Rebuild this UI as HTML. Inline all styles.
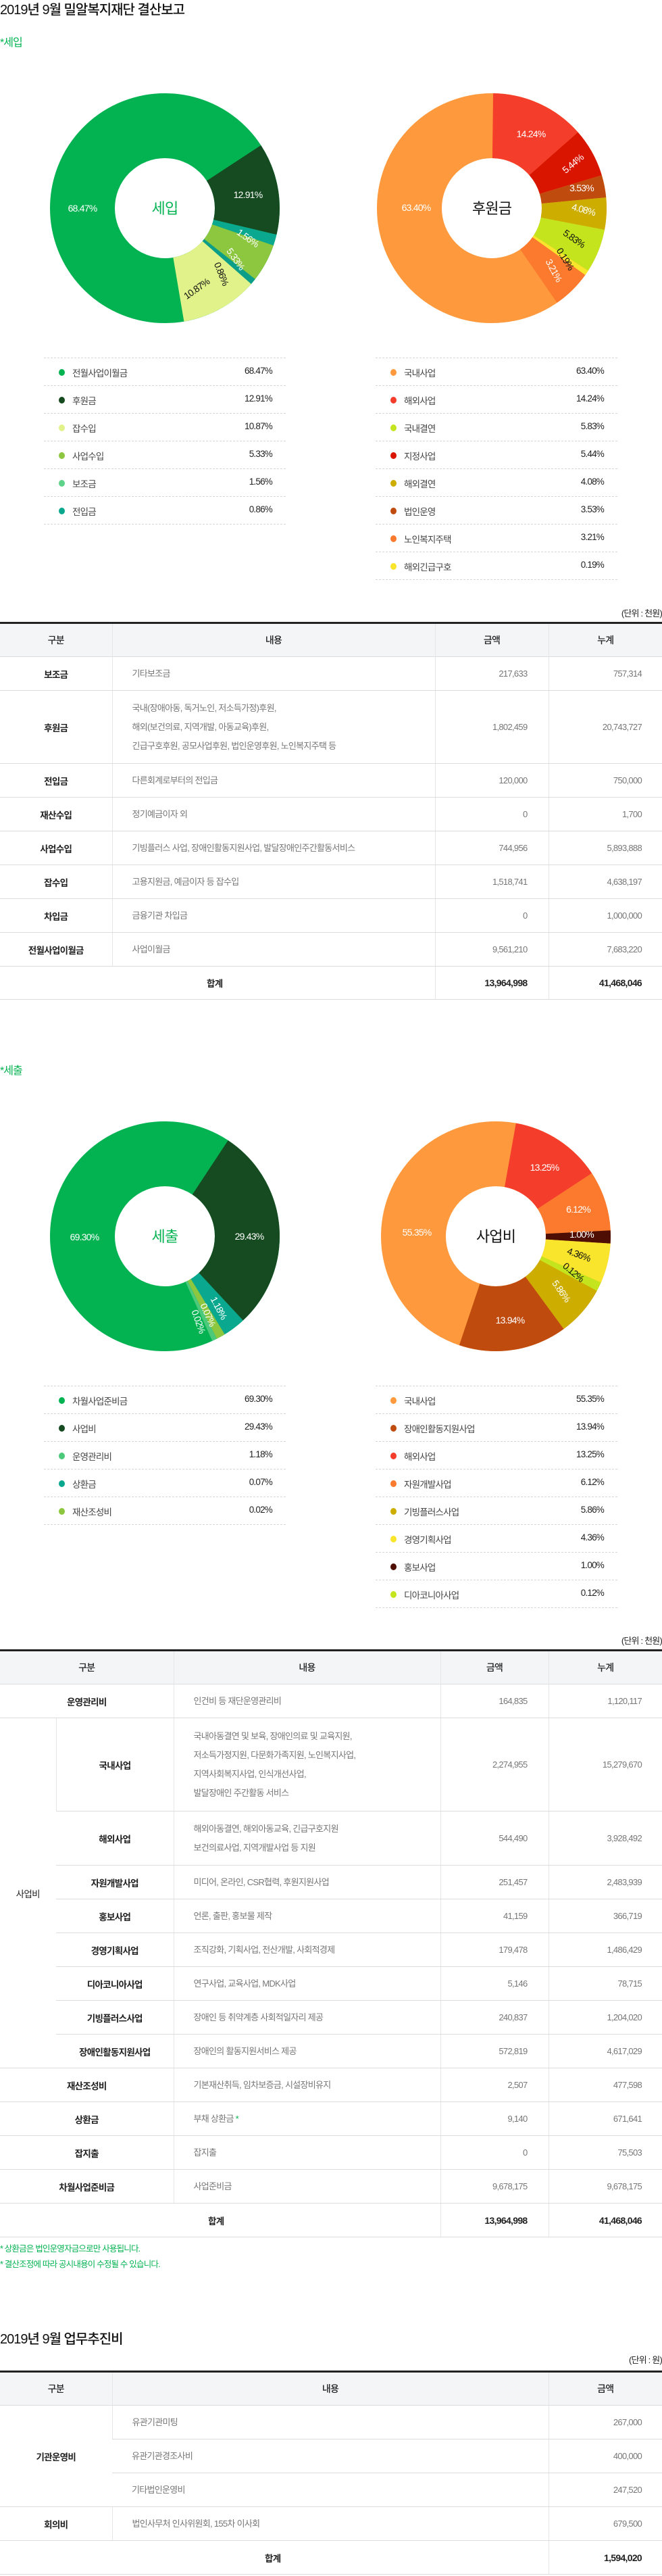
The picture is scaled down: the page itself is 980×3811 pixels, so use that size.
<!DOCTYPE html>
<html><head><meta charset="utf-8">
<style>
*{margin:0;padding:0;box-sizing:border-box}
body{width:980px;height:3811px;position:relative;background:#fff;font-family:"Liberation Sans","Noto Sans CJK KR",sans-serif;overflow:hidden}
.a{position:absolute}
.title{font-size:20px;color:#111;letter-spacing:-1px;font-weight:500}
.sec{font-size:16px;color:#03b352;letter-spacing:-1px}
.lg{position:absolute;height:41px;border-top:1px dashed #d6d6d6;font-size:13.5px;color:#444;letter-spacing:-0.8px}
.lg .d{position:absolute;left:22px;top:16px;width:9px;height:10px;border-radius:50%}
.lg .n{position:absolute;left:42px;top:11px}
.lg .p{position:absolute;right:20px;top:11px;color:#222}
.lgend{position:absolute;height:0;border-top:1px dashed #d6d6d6}
.unit{font-size:13px;color:#222;right:0;letter-spacing:-0.8px}
table{position:absolute;left:0;width:980px;border-collapse:collapse;table-layout:fixed;border-top:3px solid #222;font-size:13px;letter-spacing:-0.7px}
td,th{border-bottom:1.5px solid #ddd;border-left:1px solid #e6e6e6;vertical-align:middle;color:#777;font-weight:normal}
tr td:first-child,tr th:first-child{border-left:none}
th{background:#f4f5f7;color:#222;font-size:14px;font-weight:500}
td.l{text-align:center;color:#222;font-weight:bold;font-size:13.5px}
td.c{padding-left:29px;line-height:28px}
td.n{text-align:right;padding-right:31px}
td.m{text-align:right;padding-right:30px}
td.b{color:#222;font-weight:bold;font-size:14px}
svg text{font-family:"Liberation Sans","Noto Sans CJK KR",sans-serif;letter-spacing:-0.8px}
.note{font-size:12.5px;color:#03b352;letter-spacing:-0.8px}
</style></head><body>

<div class="a title" style="left:0;top:-2px">2019년 9월 밀알복지재단 결산보고</div>
<div class="a sec" style="left:0;top:49px">*세입</div>

<svg class="a" style="left:0;top:0" width="980" height="2100">
<!-- donut1 -->
<g transform="rotate(-90 244 308)" fill="none" stroke-width="96">
<circle cx="244" cy="308" r="122" stroke="#03b352"/>
<circle cx="244" cy="308" r="122" stroke="#164a20" stroke-dasharray="99.01 766.55" stroke-dashoffset="-120.94"/>
<circle cx="244" cy="308" r="122" stroke="#0aa88e" stroke-dasharray="11.92 766.55" stroke-dashoffset="-219.96"/>
<circle cx="244" cy="308" r="122" stroke="#8dc63f" stroke-dasharray="40.88 766.55" stroke-dashoffset="-231.88"/>
<circle cx="244" cy="308" r="122" stroke="#0d9e8a" stroke-dasharray="6.6 766.55" stroke-dashoffset="-272.76"/>
<circle cx="244" cy="308" r="122" stroke="#e2f28a" stroke-dasharray="83.26 766.55" stroke-dashoffset="-279.36"/>
</g>
<g font-size="14" fill="#fff" text-anchor="middle">
<text x="122" y="313">68.47%</text>
<text x="367" y="293">12.91%</text>
<text x="367" y="357" transform="rotate(35 367 352)">1.56%</text>
<text x="349" y="388" transform="rotate(55 349 383)">5.33%</text>
<text x="328" y="410" transform="rotate(68 328 405)" fill="#111">0.86%</text>
<text x="291" y="432" transform="rotate(-35 291 427)" fill="#111">10.87%</text>
</g>
<text x="244" y="316" font-size="22" fill="#03b352" text-anchor="middle">세입</text>

<!-- donut2 -->
<g transform="rotate(-90 728 308)" fill="none" stroke-width="96">
<circle cx="728" cy="308" r="122" stroke="#fe9a3d"/>
<circle cx="728" cy="308" r="122" stroke="#f43e2b" stroke-dasharray="102.0 766.55" stroke-dashoffset="-1.49"/>
<circle cx="728" cy="308" r="122" stroke="#d91500" stroke-dasharray="52.59 766.55" stroke-dashoffset="-103.48"/>
<circle cx="728" cy="308" r="122" stroke="#c04b0f" stroke-dasharray="24.06 766.55" stroke-dashoffset="-156.08"/>
<circle cx="728" cy="308" r="122" stroke="#ccad00" stroke-dasharray="34.49 766.55" stroke-dashoffset="-180.14"/>
<circle cx="728" cy="308" r="122" stroke="#c4e51d" stroke-dasharray="47.06 766.55" stroke-dashoffset="-214.63"/>
<circle cx="728" cy="308" r="122" stroke="#f9e52b" stroke-dasharray="5.54 766.55" stroke-dashoffset="-261.69"/>
<circle cx="728" cy="308" r="122" stroke="#fb7a2e" stroke-dasharray="42.16 766.55" stroke-dashoffset="-267.23"/>
</g>
<g font-size="14" fill="#fff" text-anchor="middle">
<text x="616" y="312">63.40%</text>
<text x="786" y="203">14.24%</text>
<text x="848" y="247" transform="rotate(-40 848 242)">5.44%</text>
<text x="861" y="283">3.53%</text>
<text x="864" y="315" transform="rotate(15 864 310)">4.08%</text>
<text x="850" y="358" transform="rotate(35 850 353)" fill="#111">5.83%</text>
<text x="837" y="388" transform="rotate(58 837 383)" fill="#111">0.19%</text>
<text x="820" y="405" transform="rotate(62 820 400)">3.21%</text>
</g>
<text x="728" y="316" font-size="22" fill="#111" text-anchor="middle">후원금</text>

<!-- donut3 -->
<g transform="rotate(-90 244 1829)" fill="none" stroke-width="96">
<circle cx="244" cy="1829" r="122" stroke="#03b352"/>
<circle cx="244" cy="1829" r="122" stroke="#164a20" stroke-dasharray="220.6 766.55" stroke-dashoffset="-71.12"/>
<circle cx="244" cy="1829" r="122" stroke="#0aa88e" stroke-dasharray="24.49 766.55" stroke-dashoffset="-291.71"/>
<circle cx="244" cy="1829" r="122" stroke="#8dc63f" stroke-dasharray="9.58 766.55" stroke-dashoffset="-316.2"/>
<circle cx="244" cy="1829" r="122" stroke="#4cc97a" stroke-dasharray="5.32 766.55" stroke-dashoffset="-325.78"/>
</g>
<g font-size="14" fill="#fff" text-anchor="middle">
<text x="125" y="1835">69.30%</text>
<text x="369" y="1834">29.43%</text>
<text x="324" y="1940" transform="rotate(62 324 1935)">1.18%</text>
<text x="308" y="1950" transform="rotate(66 308 1945)">0.07%</text>
<text x="294" y="1960" transform="rotate(70 294 1955)">0.02%</text>
</g>
<text x="244" y="1837" font-size="22" fill="#03b352" text-anchor="middle">세출</text>

<!-- donut4 -->
<g transform="rotate(-90 734 1829)" fill="none" stroke-width="96">
<circle cx="734" cy="1829" r="122" stroke="#fe9a3d"/>
<circle cx="734" cy="1829" r="122" stroke="#f43e2b" stroke-dasharray="99.23 766.55" stroke-dashoffset="-21.51"/>
<circle cx="734" cy="1829" r="122" stroke="#fb7a2e" stroke-dasharray="64.52 766.55" stroke-dashoffset="-120.73"/>
<circle cx="734" cy="1829" r="122" stroke="#4f0e03" stroke-dasharray="14.05 766.55" stroke-dashoffset="-185.25"/>
<circle cx="734" cy="1829" r="122" stroke="#f9e52b" stroke-dasharray="42.8 766.55" stroke-dashoffset="-199.3"/>
<circle cx="734" cy="1829" r="122" stroke="#c4e51d" stroke-dasharray="9.79 766.55" stroke-dashoffset="-242.1"/>
<circle cx="734" cy="1829" r="122" stroke="#ccad00" stroke-dasharray="54.08 766.55" stroke-dashoffset="-251.9"/>
<circle cx="734" cy="1829" r="122" stroke="#c04b0f" stroke-dasharray="116.69 766.55" stroke-dashoffset="-305.98"/>
</g>
<g font-size="14" fill="#fff" text-anchor="middle">
<text x="617" y="1828">55.35%</text>
<text x="806" y="1732">13.25%</text>
<text x="856" y="1794">6.12%</text>
<text x="861" y="1831">1.00%</text>
<text x="857" y="1861" transform="rotate(20 857 1856)" fill="#111">4.36%</text>
<text x="849" y="1887" transform="rotate(40 849 1882)" fill="#111">0.12%</text>
<text x="831" y="1915" transform="rotate(55 831 1910)">5.86%</text>
<text x="755" y="1958">13.94%</text>
</g>
<text x="734" y="1837" font-size="22" fill="#111" text-anchor="middle">사업비</text>
</svg>

<!-- legend 1 left -->
<div class="lg" style="left:65px;top:529px;width:358px"><span class="d" style="background:#03b352"></span><span class="n">전월사업이월금</span><span class="p">68.47%</span></div>
<div class="lg" style="left:65px;top:570px;width:358px"><span class="d" style="background:#164a20"></span><span class="n">후원금</span><span class="p">12.91%</span></div>
<div class="lg" style="left:65px;top:611px;width:358px"><span class="d" style="background:#e2f28a"></span><span class="n">잡수입</span><span class="p">10.87%</span></div>
<div class="lg" style="left:65px;top:652px;width:358px"><span class="d" style="background:#8dc63f"></span><span class="n">사업수입</span><span class="p">5.33%</span></div>
<div class="lg" style="left:65px;top:693px;width:358px"><span class="d" style="background:#5fd38a"></span><span class="n">보조금</span><span class="p">1.56%</span></div>
<div class="lg" style="left:65px;top:734px;width:358px"><span class="d" style="background:#0aa88e"></span><span class="n">전입금</span><span class="p">0.86%</span></div>
<div class="lgend" style="left:65px;top:775px;width:358px"></div>
<!-- legend 1 right -->
<div class="lg" style="left:556px;top:529px;width:358px"><span class="d" style="background:#fe9a3d"></span><span class="n">국내사업</span><span class="p">63.40%</span></div>
<div class="lg" style="left:556px;top:570px;width:358px"><span class="d" style="background:#f43e2b"></span><span class="n">해외사업</span><span class="p">14.24%</span></div>
<div class="lg" style="left:556px;top:611px;width:358px"><span class="d" style="background:#c4e51d"></span><span class="n">국내결연</span><span class="p">5.83%</span></div>
<div class="lg" style="left:556px;top:652px;width:358px"><span class="d" style="background:#d91500"></span><span class="n">지정사업</span><span class="p">5.44%</span></div>
<div class="lg" style="left:556px;top:693px;width:358px"><span class="d" style="background:#ccad00"></span><span class="n">해외결연</span><span class="p">4.08%</span></div>
<div class="lg" style="left:556px;top:734px;width:358px"><span class="d" style="background:#c04b0f"></span><span class="n">법인운영</span><span class="p">3.53%</span></div>
<div class="lg" style="left:556px;top:775px;width:358px"><span class="d" style="background:#fb7a2e"></span><span class="n">노인복지주택</span><span class="p">3.21%</span></div>
<div class="lg" style="left:556px;top:816px;width:358px"><span class="d" style="background:#f9e52b"></span><span class="n">해외긴급구호</span><span class="p">0.19%</span></div>
<div class="lgend" style="left:556px;top:857px;width:358px"></div>

<div class="a unit" style="top:897px">(단위 : 천원)</div>
<table style="top:920px">
<colgroup><col style="width:166px"><col style="width:478px"><col style="width:168px"><col style="width:168px"></colgroup>
<tr style="height:50px"><th>구분</th><th>내용</th><th>금액</th><th>누계</th></tr>
<tr style="height:50px"><td class="l">보조금</td><td class="c">기타보조금</td><td class="n">217,633</td><td class="m">757,314</td></tr>
<tr style="height:108px"><td class="l">후원금</td><td class="c">국내(장애아동, 독거노인, 저소득가정)후원,<br>해외(보건의료, 지역개발, 아동교육)후원,<br>긴급구호후원, 공모사업후원, 법인운영후원, 노인복지주택 등</td><td class="n">1,802,459</td><td class="m">20,743,727</td></tr>
<tr style="height:50px"><td class="l">전입금</td><td class="c">다른회계로부터의 전입금</td><td class="n">120,000</td><td class="m">750,000</td></tr>
<tr style="height:50px"><td class="l">재산수입</td><td class="c">정기예금이자 외</td><td class="n">0</td><td class="m">1,700</td></tr>
<tr style="height:50px"><td class="l">사업수입</td><td class="c">기빙플러스 사업, 장애인활동지원사업, 발달장애인주간활동서비스</td><td class="n">744,956</td><td class="m">5,893,888</td></tr>
<tr style="height:50px"><td class="l">잡수입</td><td class="c">고용지원금, 예금이자 등 잡수입</td><td class="n">1,518,741</td><td class="m">4,638,197</td></tr>
<tr style="height:50px"><td class="l">차입금</td><td class="c">금융기관 차입금</td><td class="n">0</td><td class="m">1,000,000</td></tr>
<tr style="height:50px"><td class="l">전월사업이월금</td><td class="c">사업이월금</td><td class="n">9,561,210</td><td class="m">7,683,220</td></tr>
<tr style="height:49px"><td colspan="2" class="l" style="padding-right:8px">합계</td><td class="n b">13,964,998</td><td class="m b">41,468,046</td></tr>
</table>

<div class="a sec" style="left:0;top:1570px">*세출</div>

<!-- legend 2 left -->
<div class="lg" style="left:65px;top:2050px;width:358px"><span class="d" style="background:#03b352"></span><span class="n">차월사업준비금</span><span class="p">69.30%</span></div>
<div class="lg" style="left:65px;top:2091px;width:358px"><span class="d" style="background:#164a20"></span><span class="n">사업비</span><span class="p">29.43%</span></div>
<div class="lg" style="left:65px;top:2132px;width:358px"><span class="d" style="background:#4cc97a"></span><span class="n">운영관리비</span><span class="p">1.18%</span></div>
<div class="lg" style="left:65px;top:2173px;width:358px"><span class="d" style="background:#0aa88e"></span><span class="n">상환금</span><span class="p">0.07%</span></div>
<div class="lg" style="left:65px;top:2214px;width:358px"><span class="d" style="background:#8dc63f"></span><span class="n">재산조성비</span><span class="p">0.02%</span></div>
<div class="lgend" style="left:65px;top:2255px;width:358px"></div>
<!-- legend 2 right -->
<div class="lg" style="left:556px;top:2050px;width:358px"><span class="d" style="background:#fe9a3d"></span><span class="n">국내사업</span><span class="p">55.35%</span></div>
<div class="lg" style="left:556px;top:2091px;width:358px"><span class="d" style="background:#c04b0f"></span><span class="n">장애인활동지원사업</span><span class="p">13.94%</span></div>
<div class="lg" style="left:556px;top:2132px;width:358px"><span class="d" style="background:#f43e2b"></span><span class="n">해외사업</span><span class="p">13.25%</span></div>
<div class="lg" style="left:556px;top:2173px;width:358px"><span class="d" style="background:#fb7a2e"></span><span class="n">자원개발사업</span><span class="p">6.12%</span></div>
<div class="lg" style="left:556px;top:2214px;width:358px"><span class="d" style="background:#ccad00"></span><span class="n">기빙플러스사업</span><span class="p">5.86%</span></div>
<div class="lg" style="left:556px;top:2255px;width:358px"><span class="d" style="background:#f9e52b"></span><span class="n">경영기획사업</span><span class="p">4.36%</span></div>
<div class="lg" style="left:556px;top:2296px;width:358px"><span class="d" style="background:#4f0e03"></span><span class="n">홍보사업</span><span class="p">1.00%</span></div>
<div class="lg" style="left:556px;top:2337px;width:358px"><span class="d" style="background:#c4e51d"></span><span class="n">디아코니아사업</span><span class="p">0.12%</span></div>
<div class="lgend" style="left:556px;top:2378px;width:358px"></div>

<div class="a unit" style="top:2417px">(단위 : 천원)</div>
<table style="top:2440px">
<colgroup><col style="width:83px"><col style="width:174px"><col style="width:395px"><col style="width:160px"><col style="width:168px"></colgroup>
<tr style="height:50px"><th colspan="2">구분</th><th>내용</th><th>금액</th><th>누계</th></tr>
<tr style="height:50px"><td colspan="2" class="l">운영관리비</td><td class="c">인건비 등 재단운영관리비</td><td class="n">164,835</td><td class="m">1,120,117</td></tr>
<tr style="height:138px"><td rowspan="8" class="l" style="font-weight:normal">사업비</td><td class="l">국내사업</td><td class="c">국내아동결연 및 보육, 장애인의료 및 교육지원,<br>저소득가정지원, 다문화가족지원, 노인복지사업,<br>지역사회복지사업, 인식개선사업,<br>발달장애인 주간활동 서비스</td><td class="n">2,274,955</td><td class="m">15,279,670</td></tr>
<tr style="height:80px"><td class="l">해외사업</td><td class="c">해외아동결연, 해외아동교육, 긴급구호지원<br>보건의료사업, 지역개발사업 등 지원</td><td class="n">544,490</td><td class="m">3,928,492</td></tr>
<tr style="height:50px"><td class="l">자원개발사업</td><td class="c">미디어, 온라인, CSR협력, 후원지원사업</td><td class="n">251,457</td><td class="m">2,483,939</td></tr>
<tr style="height:50px"><td class="l">홍보사업</td><td class="c">언론, 출판, 홍보물 제작</td><td class="n">41,159</td><td class="m">366,719</td></tr>
<tr style="height:50px"><td class="l">경영기획사업</td><td class="c">조직강화, 기획사업, 전산개발, 사회적경제</td><td class="n">179,478</td><td class="m">1,486,429</td></tr>
<tr style="height:50px"><td class="l">디아코니아사업</td><td class="c">연구사업, 교육사업, MDK사업</td><td class="n">5,146</td><td class="m">78,715</td></tr>
<tr style="height:50px"><td class="l">기빙플러스사업</td><td class="c">장애인 등 취약계층 사회적일자리 제공</td><td class="n">240,837</td><td class="m">1,204,020</td></tr>
<tr style="height:50px"><td class="l">장애인활동지원사업</td><td class="c">장애인의 활동지원서비스 제공</td><td class="n">572,819</td><td class="m">4,617,029</td></tr>
<tr style="height:50px"><td colspan="2" class="l">재산조성비</td><td class="c">기본재산취득, 임차보증금, 시설장비유지</td><td class="n">2,507</td><td class="m">477,598</td></tr>
<tr style="height:50px"><td colspan="2" class="l">상환금</td><td class="c">부채 상환금 <span style="color:#03b352">*</span></td><td class="n">9,140</td><td class="m">671,641</td></tr>
<tr style="height:50px"><td colspan="2" class="l">잡지출</td><td class="c">잡지출</td><td class="n">0</td><td class="m">75,503</td></tr>
<tr style="height:50px"><td colspan="2" class="l">차월사업준비금</td><td class="c">사업준비금</td><td class="n">9,678,175</td><td class="m">9,678,175</td></tr>
<tr style="height:50px"><td colspan="3" class="l" style="padding-right:12px">합계</td><td class="n b">13,964,998</td><td class="m b">41,468,046</td></tr>
</table>

<div class="a note" style="left:0;top:3316px">* 상환금은 법인운영자금으로만 사용됩니다.</div>
<div class="a note" style="left:0;top:3339px">* 결산조정에 따라 공시내용이 수정될 수 있습니다.</div>

<div class="a title" style="left:0;top:3444px">2019년 9월 업무추진비</div>
<div class="a unit" style="top:3481px">(단위 : 원)</div>
<table style="top:3507px">
<colgroup><col style="width:166px"><col style="width:646px"><col style="width:168px"></colgroup>
<tr style="height:50px"><th>구분</th><th>내용</th><th>금액</th></tr>
<tr style="height:50px"><td rowspan="3" class="l">기관운영비</td><td class="c">유관기관미팅</td><td class="m">267,000</td></tr>
<tr style="height:50px"><td class="c">유관기관경조사비</td><td class="m">400,000</td></tr>
<tr style="height:50px"><td class="c">기타법인운영비</td><td class="m">247,520</td></tr>
<tr style="height:50px"><td class="l">회의비</td><td class="c">법인사무처 인사위원회, 155차 이사회</td><td class="m">679,500</td></tr>
<tr style="height:50px"><td colspan="2" class="l" style="padding-right:4px">합계</td><td class="m b">1,594,020</td></tr>
</table>
</body></html>
